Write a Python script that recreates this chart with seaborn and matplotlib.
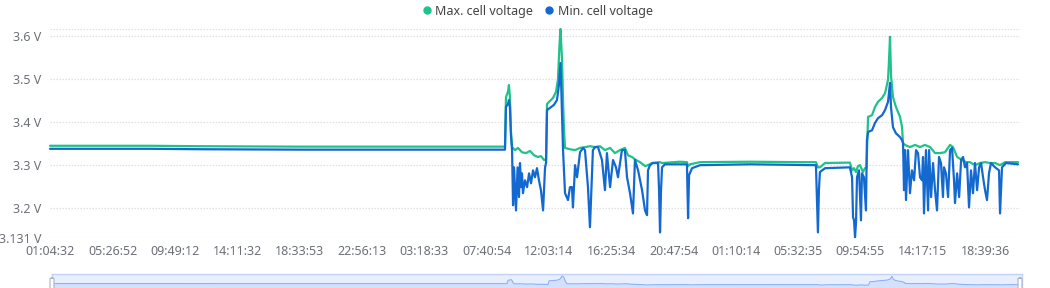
import numpy as np
import pandas as pd
import seaborn as sns
import matplotlib
matplotlib.use("Agg")
import matplotlib.pyplot as plt
from matplotlib.lines import Line2D
from matplotlib.patches import FancyBboxPatch

# ---------------- data (hours since start, volts) ----------------
max_hours = [0, 7.06, 10.6, 17.7, 24.7, 32.13, 32.2, 32.34, 32.41, 32.48, 32.55, 32.63,
             32.84, 33.05, 33.33, 33.61, 33.90, 34.18, 34.46, 34.67, 34.89, 35.03,
             35.10, 35.31, 35.52, 35.73, 35.87, 35.98, 36.05, 36.16, 36.23, 36.30,
             36.37, 36.72, 37.08, 37.43, 37.78, 38.13, 38.49, 38.84, 39.19, 39.55,
             39.90, 40.25, 40.60, 40.82, 41.10, 41.38, 41.67, 42.02, 42.23, 42.51,
             43.08, 43.22, 44.49, 44.98, 45.06, 45.20, 45.90, 49.43, 52.96, 54.09,
             54.23, 54.37, 54.73, 56.49, 56.64, 56.78, 56.92, 57.06, 57.20, 57.41,
             57.55, 57.66, 57.77, 58.05, 58.26, 58.47, 58.76, 58.97, 59.18, 59.25,
             59.32, 59.39, 59.53, 59.74, 60.03, 60.17, 60.24, 60.38, 60.73, 61.09,
             61.44, 61.79, 62.15, 62.50, 62.85, 63.20, 63.56, 63.77, 64.06, 64.41,
             64.69, 64.97, 65.32, 65.68, 66.03, 66.38, 66.74, 67.09, 67.44, 68.36]
max_volts = [3.345, 3.345, 3.344, 3.343, 3.343, 3.343, 3.458, 3.470, 3.486, 3.458, 3.381, 3.342,
             3.335, 3.340, 3.330, 3.328, 3.333, 3.323, 3.319, 3.321, 3.312, 3.314,
             3.442, 3.449, 3.456, 3.470, 3.498, 3.579, 3.616, 3.544, 3.451, 3.381,
             3.340, 3.337, 3.335, 3.340, 3.342, 3.344, 3.342, 3.344, 3.335, 3.340,
             3.328, 3.335, 3.340, 3.323, 3.319, 3.312, 3.307, 3.298, 3.300, 3.305,
             3.307, 3.305, 3.308, 3.307, 3.298, 3.302, 3.307, 3.308, 3.307, 3.307,
             3.295, 3.295, 3.305, 3.306, 3.288, 3.293, 3.284, 3.298, 3.300, 3.284,
             3.293, 3.293, 3.412, 3.416, 3.435, 3.447, 3.456, 3.467, 3.498, 3.544,
             3.598, 3.509, 3.458, 3.435, 3.412, 3.388, 3.351, 3.347, 3.342, 3.347,
             3.342, 3.347, 3.342, 3.328, 3.328, 3.330, 3.347, 3.342, 3.319, 3.312,
             3.307, 3.307, 3.300, 3.305, 3.307, 3.305, 3.305, 3.300, 3.307, 3.307]

min_hours = [0, 7.06, 10.6, 17.7, 24.7, 32.13, 32.2, 32.34, 32.41, 32.48, 32.55, 32.63,
             32.70, 32.77, 32.91, 33.02, 33.12, 33.19, 33.26, 33.33, 33.40, 33.54,
             33.69, 33.83, 33.97, 34.11, 34.25, 34.39, 34.53, 34.67, 34.82, 34.96,
             35.03, 35.10, 35.31, 35.59, 35.80, 35.94, 36.05, 36.12, 36.23, 36.37,
             36.58, 36.72, 36.86, 36.93, 37.08, 37.22, 37.43, 37.64, 37.78, 37.99,
             38.13, 38.34, 38.49, 38.70, 38.98, 39.19, 39.33, 39.55, 39.76, 39.97,
             40.11, 40.39, 40.60, 40.75, 40.96, 41.17, 41.31, 41.53, 41.81, 42.02,
             42.16, 42.23, 42.37, 42.58, 42.94, 43.01, 43.08, 43.15, 43.22, 43.43,
             44.98, 45.06, 45.13, 45.34, 45.90, 49.43, 54.09, 54.16, 54.23, 54.30,
             54.37, 54.73, 56.49, 56.64, 56.71, 56.78, 56.85, 56.92, 56.99, 57.13,
             57.27, 57.34, 57.48, 57.62, 57.69, 57.77, 58.05, 58.26, 58.47, 58.76,
             58.97, 59.18, 59.32, 59.39, 59.53, 59.74, 60.03, 60.17, 60.24, 60.31,
             60.38, 60.45, 60.59, 60.73, 60.87, 61.02, 61.16, 61.30, 61.44, 61.58,
             61.65, 61.72, 61.86, 62.01, 62.08, 62.22, 62.36, 62.50, 62.64, 62.78,
             62.92, 63.06, 63.13, 63.27, 63.42, 63.56, 63.70, 63.84, 63.91, 64.06,
             64.20, 64.34, 64.48, 64.62, 64.76, 64.90, 65.04, 65.18, 65.32, 65.47,
             65.61, 65.75, 65.89, 66.03, 66.17, 66.31, 66.45, 66.74, 67.02, 67.09,
             67.23, 67.51, 68.36]
min_volts = [3.338, 3.338, 3.337, 3.336, 3.336, 3.336, 3.435, 3.442, 3.451, 3.433, 3.370, 3.335,
             3.207, 3.295, 3.195, 3.295, 3.226, 3.305, 3.249, 3.281, 3.235, 3.265,
             3.249, 3.281, 3.258, 3.288, 3.272, 3.293, 3.265, 3.242, 3.195, 3.295,
             3.305, 3.428, 3.433, 3.440, 3.451, 3.486, 3.537, 3.463, 3.335, 3.235,
             3.219, 3.249, 3.249, 3.202, 3.300, 3.272, 3.330, 3.340, 3.335, 3.249,
             3.156, 3.335, 3.342, 3.342, 3.312, 3.242, 3.328, 3.249, 3.312, 3.295,
             3.272, 3.335, 3.335, 3.272, 3.235, 3.188, 3.312, 3.288, 3.242, 3.195,
             3.184, 3.288, 3.300, 3.305, 3.305, 3.242, 3.144, 3.242, 3.295, 3.302,
             3.302, 3.177, 3.277, 3.293, 3.300, 3.302, 3.300, 3.219, 3.144, 3.242,
             3.284, 3.293, 3.295, 3.272, 3.179, 3.172, 3.133, 3.167, 3.272, 3.288,
             3.172, 3.281, 3.272, 3.195, 3.358, 3.377, 3.381, 3.398, 3.409, 3.416,
             3.428, 3.447, 3.491, 3.435, 3.388, 3.374, 3.365, 3.358, 3.351, 3.242,
             3.335, 3.219, 3.335, 3.235, 3.288, 3.265, 3.335, 3.328, 3.272, 3.265,
             3.319, 3.188, 3.335, 3.195, 3.335, 3.226, 3.305, 3.242, 3.195, 3.319,
             3.305, 3.226, 3.295, 3.281, 3.226, 3.335, 3.340, 3.265, 3.212, 3.281,
             3.226, 3.312, 3.319, 3.295, 3.305, 3.202, 3.288, 3.235, 3.305, 3.242,
             3.295, 3.305, 3.272, 3.242, 3.219, 3.281, 3.305, 3.295, 3.288, 3.188,
             3.295, 3.305, 3.302]

tick_labels = ["01:04:32", "05:26:52", "09:49:12", "14:11:32", "18:33:53", "22:56:13",
               "03:18:33", "07:40:54", "12:03:14", "16:25:34", "20:47:54", "01:10:14",
               "05:32:35", "09:54:55", "14:17:15", "18:39:36"]
y_ticks = [3.131, 3.2, 3.3, 3.4, 3.5, 3.6]
series_names = ["Max. cell voltage", "Min. cell voltage"]

# ---------------- style ----------------
sns.set_theme(style="white")
plt.rcParams["font.family"] = ["Noto Sans", "DejaVu Sans"]
plt.rcParams["lines.solid_joinstyle"] = "round"
plt.rcParams["lines.solid_capstyle"] = "round"

GREEN = "#1fc28c"
BLUE = "#1369d0"
LABEL = "#6e7079"
GRID = "#e0e0e0"

df_max = pd.DataFrame({"t": max_hours, "v": max_volts})
df_min = pd.DataFrame({"t": min_hours, "v": min_volts})

W, H = 1050, 288
fig = plt.figure(figsize=(W / 100, H / 100), dpi=100)
ax = fig.add_axes([50 / W, 1 - 238 / H, 970 / W, 209 / H])

ax.set_ylim(3.131, 3.616)
ax.set_xlim(0, 68.5)
ax.set_yticks(y_ticks)
ax.set_yticklabels([f"{v:g} V" for v in y_ticks])
tick_step = 4.40
ax.set_xticks([0.035 + tick_step * i for i in range(len(tick_labels))])
ax.set_xticklabels(tick_labels)
ax.tick_params(axis="both", length=0, labelsize=9, colors=LABEL)
ax.tick_params(axis="y", pad=6)
ax.tick_params(axis="x", pad=5)
for s in ax.spines.values():
    s.set_visible(False)
ax.yaxis.grid(True, color=GRID, linestyle=(0, (1.2, 1.2)), linewidth=0.9)
ax.xaxis.grid(False)
ax.axhline(3.616, color=GRID, linestyle=(0, (1.2, 1.2)), linewidth=0.9, zorder=0)

sns.lineplot(data=df_max, x="t", y="v", ax=ax, color=GREEN, linewidth=1.6,
             sort=False, estimator=None, clip_on=False)
sns.lineplot(data=df_min, x="t", y="v", ax=ax, color=BLUE, linewidth=1.6,
             sort=False, estimator=None, clip_on=False)
ax.set_xlabel("")
ax.set_ylabel("")

# legend
handles = [Line2D([], [], linestyle="none", marker="o", markersize=5,
                  markerfacecolor=c, markeredgecolor=c) for c in (GREEN, BLUE)]
fig.legend(handles, series_names, loc="center", bbox_to_anchor=(538 / W, 1 - 11 / H),
           ncol=2, frameon=False, fontsize=9, handlelength=0.5, handletextpad=0.45,
           columnspacing=1.0, labelcolor="#444444")

# data-zoom slider
sax = fig.add_axes([52 / W, 1 - 302 / H, 970 / W, 28 / H])
sax.set_facecolor("#e7eefd")
for s in sax.spines.values():
    s.set_color("#c3d2f5")
    s.set_linewidth(1)
sns.lineplot(data=df_max, x="t", y="v", ax=sax, color="#8fb0f7", linewidth=0.8,
             sort=False, estimator=None)
sax.fill_between(max_hours, max_volts, 2.0, color="#8fb0f7", alpha=0.2, linewidth=0)
sax.set_xlim(0, 68.5)
sax.set_ylim(2.7, 3.68)
sax.set_xticks([])
sax.set_yticks([])
sax.set_xlabel("")
sax.set_ylabel("")
for xp in (52, 1020):
    fig.add_artist(FancyBboxPatch(((xp - 2) / W, 1 - 294 / H), 4 / W, 16 / H,
                                  boxstyle="round,pad=0,rounding_size=0.003",
                                  transform=fig.transFigure, facecolor="white",
                                  edgecolor="#aab4c8", linewidth=0.8))

fig.savefig("out.png", dpi=100)
